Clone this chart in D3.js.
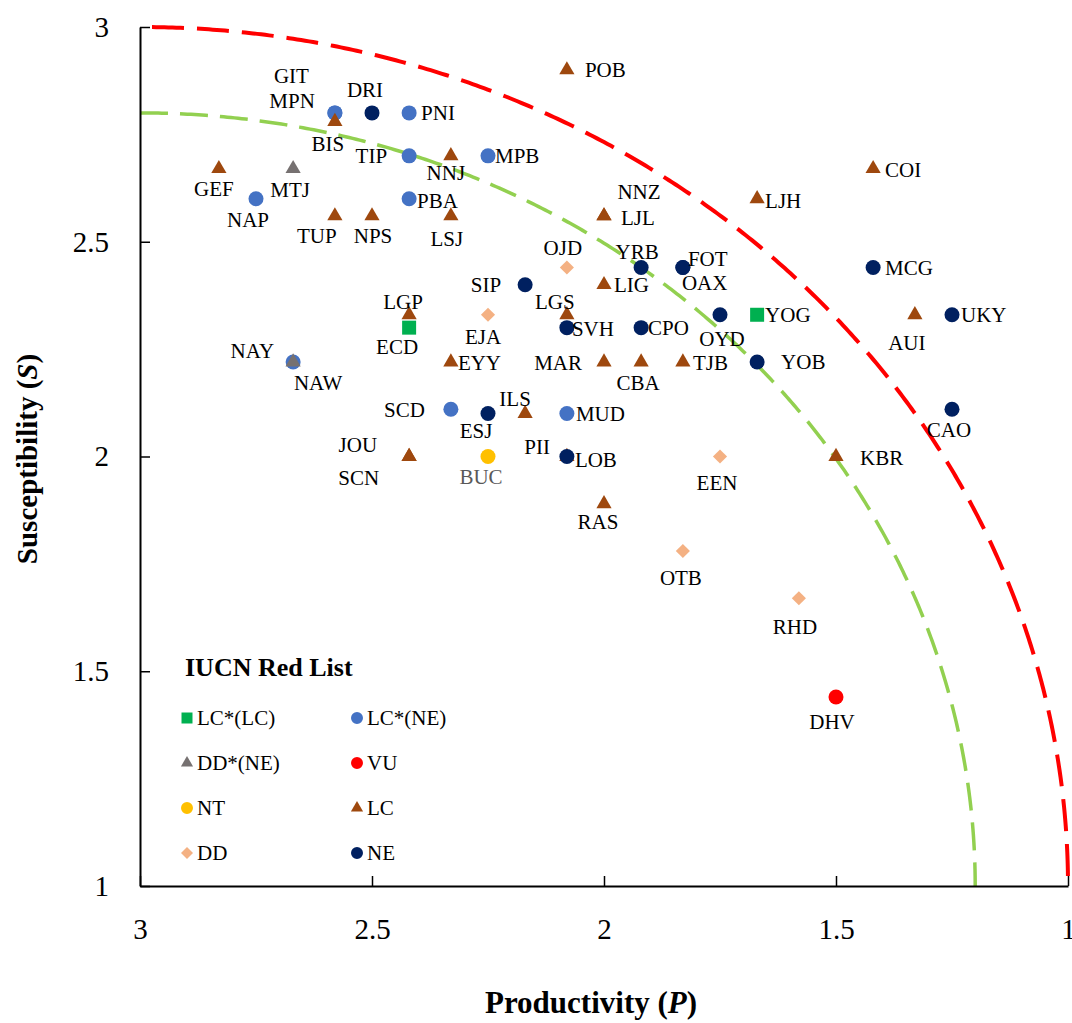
<!DOCTYPE html>
<html>
<head>
<meta charset="utf-8">
<script src="https://cdn.jsdelivr.net/npm/d3@7"></script>
<style>
  html, body { margin: 0; padding: 0; background: #fff; }
  svg { display: block; font-family: "Liberation Serif", "Times New Roman", serif; }
</style>
</head>
<body>
<div id="chart"></div>
<script>
// species codes, productivity (P), susceptibility (S) and IUCN status
const codes = ['POB','GIT','MPN','DRI','PNI','BIS','TIP','NNJ','MPB','GEF','MTJ','NAP','PBA','TUP','NPS','LSJ',
  'NNZ','LJL','LJH','COI','OJD','YRB','FOT','OAX','MCG','SIP','LIG','LGS','SVH','EJA','LGP','ECD','CPO','OYD',
  'YOG','AUI','UKY','NAY','NAW','EYY','MAR','CBA','TJB','YOB','SCD','ESJ','ILS','MUD','CAO','JOU','SCN','BUC',
  'PII','LOB','EEN','KBR','RAS','OTB','RHD','DHV'];
const productivity = [2.08,2.58,2.58,2.5,2.42,2.58,2.42,2.33,2.25,2.83,2.67,2.75,2.42,2.58,2.5,2.33,
  2.0,2.0,1.67,1.42,2.08,1.92,1.83,1.83,1.42,2.17,2.0,2.08,2.08,2.25,2.42,2.42,1.92,1.75,
  1.67,1.33,1.25,2.67,2.67,2.33,2.0,1.92,1.83,1.67,2.33,2.25,2.17,2.08,1.25,2.42,2.42,2.25,
  2.08,2.08,1.75,1.5,2.0,1.83,1.58,1.5];
const susceptibility = [2.9,2.8,2.8,2.8,2.8,2.78,2.7,2.7,2.7,2.67,2.67,2.6,2.6,2.56,2.56,2.56,
  2.56,2.56,2.6,2.67,2.44,2.44,2.44,2.44,2.44,2.4,2.4,2.33,2.3,2.33,2.33,2.3,2.3,2.33,
  2.33,2.33,2.33,2.22,2.22,2.22,2.22,2.22,2.22,2.22,2.11,2.1,2.1,2.1,2.11,2.0,2.0,2.0,
  2.0,2.0,2.0,2.0,1.89,1.78,1.67,1.44];
const status = ['LC','LC*(NE)','LC*(NE)','NE','LC*(NE)','LC','LC*(NE)','LC','LC*(NE)','LC','DD*(NE)','LC*(NE)','LC*(NE)','LC','LC','LC',
  'LC','LC','LC','LC','DD','NE','NE','NE','NE','NE','LC','LC','NE','DD','LC','LC*(LC)','NE','NE',
  'LC*(LC)','LC','NE','LC*(NE)','DD*(NE)','LC','LC','LC','LC','NE','LC*(NE)','NE','LC','LC*(NE)','NE','LC','LC','NT',
  'LC','NE','DD','LC','LC','DD','DD','VU'];

// legend order (also drawing order)
const categories = ['LC*(LC)','LC*(NE)','DD*(NE)','VU','NT','LC','DD','NE'];
const vulnerabilityCutoffs = [2, 1.8];
const xTicks = [3, 2.5, 2, 1.5, 1];
const yTicks = [1, 1.5, 2, 2.5, 3];

// styling
const catStyle = {
  'LC*(LC)': { shape: 'square',   color: '#00B050' },
  'LC*(NE)': { shape: 'circle',   color: '#4472C4' },
  'DD*(NE)': { shape: 'triangle', color: '#767171' },
  'VU':      { shape: 'circle',   color: '#FF0000' },
  'NT':      { shape: 'circle',   color: '#FFC000' },
  'LC':      { shape: 'triangle', color: '#9E480E' },
  'DD':      { shape: 'diamond',  color: '#F4B183' },
  'NE':      { shape: 'circle',   color: '#002060' }
};
const cutoffStyle = [
  { color: '#FF0000', width: 4, dash: '32,13', offset: 33 },
  { color: '#92D050', width: 3.5, dash: '28,12', offset: 0 }
];

// label placement: [anchor, dx, dy] relative to marker centre
const labelPos = {
  POB:['start',18,0], GIT:['end',-26,-37], MPN:['end',-20,-12], DRI:['middle',-7,-23], PNI:['start',12,0],
  BIS:['middle',-7,22], TIP:['end',-22,0], NNJ:['middle',-5,17], MPB:['start',7,0], GEF:['middle',-5,20],
  MTJ:['middle',-3,21], NAP:['middle',-8,21], PBA:['start',8,2], TUP:['middle',-18,20], NPS:['middle',1,20],
  LSJ:['middle',-4,23], NNZ:['middle',35,-24], LJL:['start',17,2], LJH:['start',8,2], COI:['start',12,1],
  OJD:['middle',-4,-20], YRB:['middle',-4,-16], FOT:['start',5,-9], OAX:['start',-1,15], MCG:['start',12,0],
  SIP:['end',-24,0], LIG:['start',10,0], LGS:['middle',-12,-13], SVH:['start',5,1], EJA:['middle',-5,22],
  LGP:['middle',-6,-13], ECD:['middle',-12,19], CPO:['start',7,0], OYD:['middle',2,24], YOG:['start',8,0],
  AUI:['middle',-8,28], UKY:['start',9,0], NAY:['end',-19,-11], NAW:['middle',25,21], EYY:['start',7,1],
  MAR:['end',-22,1], CBA:['middle',-3,21], TJB:['start',10,1], YOB:['start',24,0], SCD:['end',-26,1],
  ESJ:['middle',-12,17], ILS:['middle',-10,-15], MUD:['start',9,0], CAO:['middle',-3,21], JOU:['end',-32,-12],
  SCN:['end',-30,21], BUC:['middle',-7,20], PII:['end',-17,-10], LOB:['start',8,3], EEN:['middle',-3,26],
  KBR:['start',24,1], RAS:['middle',-6,18], OTB:['middle',-2,27], RHD:['middle',-4,29], DHV:['middle',-4,25]
};

const W = 1072, H = 1023;
const x = d3.scaleLinear().domain([3, 1]).range([140, 1068]);
const y = d3.scaleLinear().domain([1, 3]).range([886, 27]);

const svg = d3.select('#chart').append('svg').attr('width', W).attr('height', H);

function symbolPath(shape, big) {
  const sizes = big ? { circle: 177, triangle: 100, square: 196, diamond: 100 }
                    : { circle: 113, triangle: 64, square: 121, diamond: 72 };
  const types = { circle: d3.symbolCircle, triangle: d3.symbolTriangle, square: d3.symbolSquare, diamond: d3.symbolSquare };
  return d3.symbol().type(types[shape]).size(sizes[shape])();
}

// vulnerability cut-off arcs
vulnerabilityCutoffs.forEach((v, i) => {
  const pts = d3.range(0, 90.25, 0.25).map(a => {
    const r = a * Math.PI / 180;
    return [3 - v * Math.sin(r), 1 + v * Math.cos(r)];
  });
  const st = cutoffStyle[i];
  svg.append('path')
    .attr('d', d3.line().x(d => x(d[0])).y(d => y(d[1]))(pts))
    .attr('fill', 'none').attr('stroke', st.color).attr('stroke-width', st.width)
    .attr('stroke-dasharray', st.dash).attr('stroke-dashoffset', st.offset);
});

// axes
const xAxis = svg.append('g').attr('transform', 'translate(0,886)')
  .call(d3.axisBottom(x).tickValues(xTicks).tickFormat(d3.format('~g')).tickSizeInner(-10).tickSizeOuter(0).tickPadding(32));
const yAxis = svg.append('g').attr('transform', 'translate(140,0)')
  .call(d3.axisLeft(y).tickValues(yTicks).tickFormat(d3.format('~g')).tickSizeInner(-10).tickSizeOuter(0).tickPadding(31));
[xAxis, yAxis].forEach(g => {
  g.select('.domain').attr('stroke', '#000').attr('stroke-width', 2);
  g.selectAll('.tick line').attr('stroke', '#000').attr('stroke-width', 1.5);
  g.selectAll('.tick text').attr('fill', '#000').style('font-size', '29px')
    .style('font-family', '"Liberation Serif", "Times New Roman", serif');
});

// axis titles
const xt = svg.append('text').attr('x', 591).attr('y', 1013).attr('text-anchor', 'middle')
  .style('font-size', '31px').style('font-weight', 'bold');
xt.append('tspan').text('Productivity (');
xt.append('tspan').style('font-style', 'italic').text('P');
xt.append('tspan').text(')');

const yt = svg.append('text').attr('transform', 'translate(37,459) rotate(-90)').attr('text-anchor', 'middle')
  .style('font-size', '29px').style('font-weight', 'bold');
yt.append('tspan').text('Susceptibility (');
yt.append('tspan').style('font-style', 'italic').text('S');
yt.append('tspan').text(')');

// points, drawn series by series
const points = codes.map((c, i) => ({ code: c, p: productivity[i], s: susceptibility[i], cat: status[i] }));
const markers = svg.append('g');
categories.forEach(cat => {
  const st = catStyle[cat];
  markers.selectAll(null).data(points.filter(d => d.cat === cat)).enter().append('path')
    .attr('d', symbolPath(st.shape, true))
    .attr('transform', d => `translate(${x(d.p)},${y(d.s)})` + (st.shape === 'diamond' ? ' rotate(45)' : ''))
    .attr('fill', st.color);
});

// point labels
svg.append('g').selectAll('text').data(points).enter().append('text')
  .attr('x', d => x(d.p) + labelPos[d.code][1])
  .attr('y', d => y(d.s) + labelPos[d.code][2])
  .attr('dy', '0.34em')
  .attr('text-anchor', d => labelPos[d.code][0])
  .attr('fill', d => d.code === 'BUC' ? '#595959' : '#000')
  .style('font-size', '21px')
  .text(d => d.code);

// legend
const legend = svg.append('g');
legend.append('text').attr('x', 185).attr('y', 676).style('font-size', '26px').style('font-weight', 'bold').text('IUCN Red List');
const legRows = [718, 763, 808, 853];
categories.forEach((cat, i) => {
  const st = catStyle[cat];
  const lx = i % 2 === 0 ? 187 : 357;
  const ly = legRows[Math.floor(i / 2)];
  legend.append('path').attr('d', symbolPath(st.shape, false))
    .attr('transform', `translate(${lx},${ly})` + (st.shape === 'diamond' ? ' rotate(45)' : ''))
    .attr('fill', st.color);
  legend.append('text').attr('x', lx + 10).attr('y', ly).attr('dy', '0.34em')
    .style('font-size', '21px').text(cat);
});
</script>
</body>
</html>
